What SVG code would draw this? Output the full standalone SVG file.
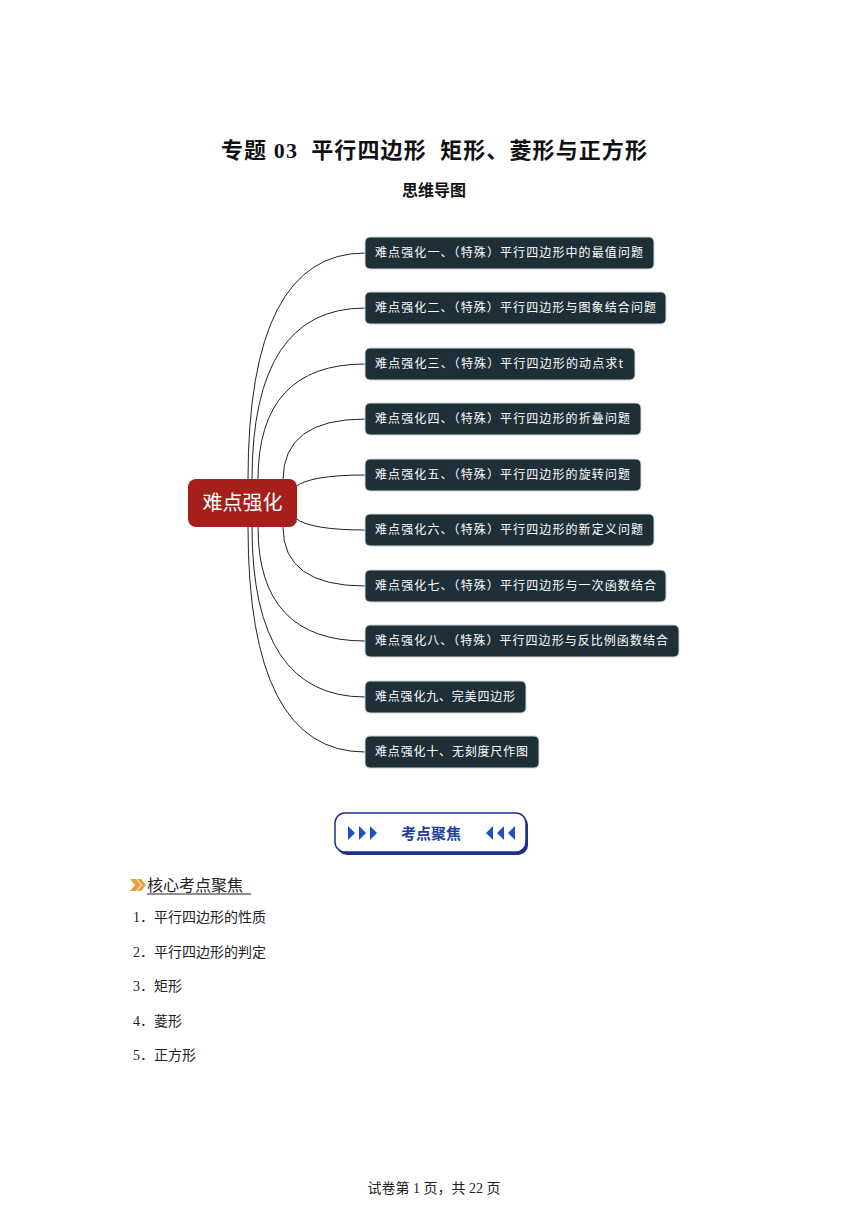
<svg xmlns="http://www.w3.org/2000/svg" width="868" height="1227" viewBox="0 0 868 1227">
<style>
.cjk{font-family:"Liberation Serif","Noto Sans CJK SC",serif}
.box{fill:#1e2f38;stroke:#d0d6d8;stroke-width:1}
.bt{font-family:"Noto Sans CJK SC",sans-serif;font-size:12px;fill:#fff}
.con path{fill:none;stroke:#222;stroke-width:1}
.it{font-family:"Liberation Serif","Noto Sans CJK SC",serif;font-size:14px;fill:#222}
</style>
<rect width="868" height="1227" fill="#fff"/>
<text x="221" y="158" xml:space="preserve" class="cjk" font-size="22" font-weight="bold" fill="#111" textLength="426" lengthAdjust="spacing">专题 03  平行四边形  矩形、菱形与正方形</text>
<text x="434" y="196" text-anchor="middle" font-family="Noto Sans CJK SC,sans-serif" font-size="16" font-weight="bold" fill="#111">思维导图</text>
<g class="con">
<path d="M248,480 Q248,253 365,253"/>
<path d="M252,480 Q252,308 365,308"/>
<path d="M258,480 Q258,364 365,364"/>
<path d="M283,480 Q283,419 365,419"/>
<path d="M295,487 Q310,475 365,475"/>
<path d="M295,518 Q310,530 365,530"/>
<path d="M283,527 Q283,586 365,586"/>
<path d="M258,527 Q258,641 365,641"/>
<path d="M252,527 Q252,697 365,697"/>
<path d="M248,527 Q248,752 365,752"/>
</g>
<g id="center"><rect x="188" y="479" width="109" height="48" rx="8" fill="#a61f1b"/><text x="242.5" y="510" text-anchor="middle" font-family="Noto Sans CJK SC,sans-serif" font-size="20" fill="#fff">难点强化</text></g>
<g id="n1"><rect class="box" x="365" y="237" width="289" height="32" rx="5"/><text class="bt" x="375" y="257" textLength="268" lengthAdjust="spacing">难点强化一、（特殊）平行四边形中的最值问题</text></g>
<g id="n2"><rect class="box" x="365" y="292" width="301" height="32" rx="5"/><text class="bt" x="375" y="312" textLength="281" lengthAdjust="spacing">难点强化二、（特殊）平行四边形与图象结合问题</text></g>
<g id="n3"><rect class="box" x="365" y="348" width="270" height="32" rx="5"/><text class="bt" x="375" y="368" textLength="248" lengthAdjust="spacing">难点强化三、（特殊）平行四边形的动点求t</text></g>
<g id="n4"><rect class="box" x="365" y="403" width="276" height="32" rx="5"/><text class="bt" x="375" y="423" textLength="255" lengthAdjust="spacing">难点强化四、（特殊）平行四边形的折叠问题</text></g>
<g id="n5"><rect class="box" x="365" y="459" width="276" height="32" rx="5"/><text class="bt" x="375" y="479" textLength="255" lengthAdjust="spacing">难点强化五、（特殊）平行四边形的旋转问题</text></g>
<g id="n6"><rect class="box" x="365" y="514" width="289" height="32" rx="5"/><text class="bt" x="375" y="534" textLength="268" lengthAdjust="spacing">难点强化六、（特殊）平行四边形的新定义问题</text></g>
<g id="n7"><rect class="box" x="365" y="570" width="301" height="32" rx="5"/><text class="bt" x="375" y="590" textLength="281" lengthAdjust="spacing">难点强化七、（特殊）平行四边形与一次函数结合</text></g>
<g id="n8"><rect class="box" x="365" y="625" width="314" height="32" rx="5"/><text class="bt" x="375" y="645" textLength="293" lengthAdjust="spacing">难点强化八、（特殊）平行四边形与反比例函数结合</text></g>
<g id="n9"><rect class="box" x="365" y="681" width="161" height="32" rx="5"/><text class="bt" x="375" y="701" textLength="140" lengthAdjust="spacing">难点强化九、完美四边形</text></g>
<g id="n10"><rect class="box" x="365" y="736" width="174" height="32" rx="5"/><text class="bt" x="375" y="756" textLength="153" lengthAdjust="spacing">难点强化十、无刻度尺作图</text></g>
<g id="banner">
<rect x="337" y="815" width="191" height="40" rx="10" fill="#1d2f8a"/>
<rect x="335" y="813" width="191" height="39" rx="10" fill="#fff" stroke="#1d2f8a" stroke-width="1.5"/>
<g fill="#1f4fc0"><polygon points="348,826 348,840 355,833"/><polygon points="359,826 359,840 366,833"/><polygon points="370,826 370,840 377,833"/>
<polygon points="515,826 515,840 508,833"/><polygon points="504,826 504,840 497,833"/><polygon points="493,826 493,840 486,833"/></g>
<text x="431" y="839" text-anchor="middle" font-family="Noto Sans CJK SC,sans-serif" font-size="15" font-weight="bold" fill="#1d3f9a">考点聚焦</text>
</g>
<g fill="#e7a13a"><polygon points="130,879 136,879 141,885 136,891 130,891 135,885"/><polygon points="137,879 141,879 146,885 141,891 137,891 142,885"/></g>
<text x="147" y="891" class="cjk" font-size="16" fill="#222">核心考点聚焦</text>
<line x1="147" y1="894" x2="251" y2="894" stroke="#222" stroke-width="1"/>
<text class="it" x="133" y="922">1．平行四边形的性质</text>
<text class="it" x="133" y="957">2．平行四边形的判定</text>
<text class="it" x="133" y="991">3．矩形</text>
<text class="it" x="133" y="1026">4．菱形</text>
<text class="it" x="133" y="1060">5．正方形</text>
<text class="it" x="434" y="1193" text-anchor="middle">试卷第 1 页，共 22 页</text>
</svg>
